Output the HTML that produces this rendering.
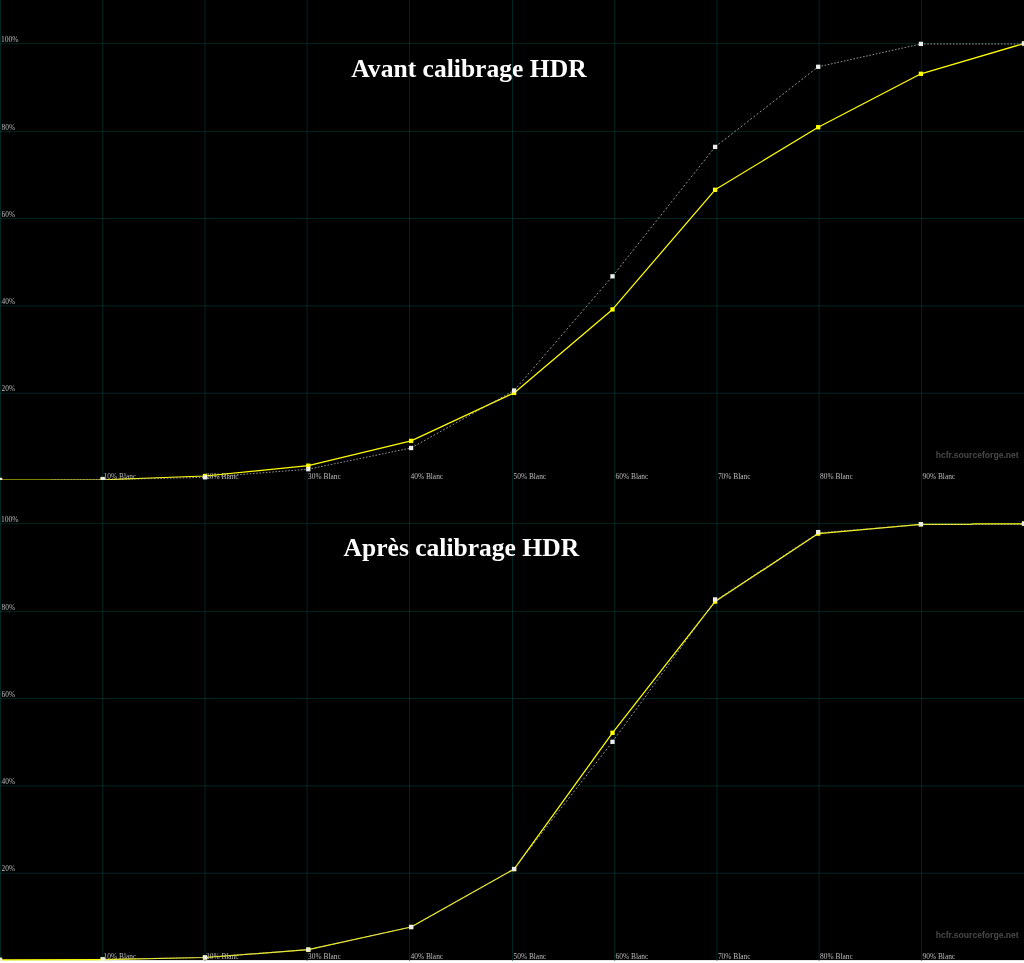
<!DOCTYPE html>
<html><head><meta charset="utf-8"><title>HCFR</title>
<style>
html,body{margin:0;padding:0;background:#fff;}
body{width:1024px;height:963px;overflow:hidden;}
svg{display:block;}
.g{stroke:#004040;stroke-width:0.55;}
.y{fill:none;stroke:#ffff00;stroke-width:1.25;stroke-linejoin:round;}
.d{fill:none;stroke:#b8b8b8;stroke-width:0.8;}
.s{font-family:"Liberation Serif",serif;font-size:8px;fill:#bcbcbc;}
.w{font-family:"Liberation Sans",sans-serif;font-size:9px;font-weight:bold;fill:#4a4a4a;}
.t{font-family:"Liberation Serif",serif;font-size:25.6px;font-weight:bold;fill:#ffffff;}
</style></head><body>
<svg width="1024" height="963" viewBox="0 0 1024 963">
<defs><clipPath id="c480"><rect x="0" y="0" width="1024" height="480"/></clipPath>
<clipPath id="c481"><rect x="0" y="0" width="1024" height="481"/></clipPath></defs>
<rect x="0" y="0" width="1024" height="960.1" fill="#000"/>
<g transform="translate(0,0)" clip-path="url(#c480)">
<line x1="0.27" y1="0" x2="0.27" y2="481" class="g"/>
<line x1="102.6" y1="0" x2="102.6" y2="481" class="g"/>
<line x1="205.0" y1="0" x2="205.0" y2="481" class="g"/>
<line x1="307.1" y1="0" x2="307.1" y2="481" class="g"/>
<line x1="409.5" y1="0" x2="409.5" y2="481" class="g"/>
<line x1="512.5" y1="0" x2="512.5" y2="481" class="g"/>
<line x1="614.6" y1="0" x2="614.6" y2="481" class="g"/>
<line x1="716.9" y1="0" x2="716.9" y2="481" class="g"/>
<line x1="819.1" y1="0" x2="819.1" y2="481" class="g"/>
<line x1="921.55" y1="0" x2="921.55" y2="481" class="g"/>
<rect x="0" y="0" width="1" height="481" fill="#002624"/>
<line x1="0" y1="43.45" x2="1024" y2="43.45" class="g"/>
<line x1="0" y1="131.45" x2="1024" y2="131.45" class="g"/>
<line x1="0" y1="218.5" x2="1024" y2="218.5" class="g"/>
<line x1="0" y1="305.9" x2="1024" y2="305.9" class="g"/>
<line x1="0" y1="393.2" x2="1024" y2="393.2" class="g"/>
<g style="filter:grayscale(1)">
<text x="1.0" y="41.55" class="s" textLength="17.6" lengthAdjust="spacingAndGlyphs">100%</text>
<text x="1.6" y="129.55" class="s" textLength="13.4" lengthAdjust="spacingAndGlyphs">80%</text>
<text x="1.6" y="216.60" class="s" textLength="13.4" lengthAdjust="spacingAndGlyphs">60%</text>
<text x="1.6" y="304.00" class="s" textLength="13.4" lengthAdjust="spacingAndGlyphs">40%</text>
<text x="1.6" y="391.30" class="s" textLength="13.4" lengthAdjust="spacingAndGlyphs">20%</text>
<text x="103.60" y="478.7" class="s" textLength="32.6" lengthAdjust="spacingAndGlyphs">10% Blanc</text>
<text x="206.00" y="478.7" class="s" textLength="32.6" lengthAdjust="spacingAndGlyphs">20% Blanc</text>
<text x="308.10" y="478.7" class="s" textLength="32.6" lengthAdjust="spacingAndGlyphs">30% Blanc</text>
<text x="410.50" y="478.7" class="s" textLength="32.6" lengthAdjust="spacingAndGlyphs">40% Blanc</text>
<text x="513.50" y="478.7" class="s" textLength="32.6" lengthAdjust="spacingAndGlyphs">50% Blanc</text>
<text x="615.60" y="478.7" class="s" textLength="32.6" lengthAdjust="spacingAndGlyphs">60% Blanc</text>
<text x="717.90" y="478.7" class="s" textLength="32.6" lengthAdjust="spacingAndGlyphs">70% Blanc</text>
<text x="820.10" y="478.7" class="s" textLength="32.6" lengthAdjust="spacingAndGlyphs">80% Blanc</text>
<text x="922.55" y="478.7" class="s" textLength="32.6" lengthAdjust="spacingAndGlyphs">90% Blanc</text>
<text x="935.7" y="458" class="w" textLength="83" lengthAdjust="spacingAndGlyphs">hcfr.sourceforge.net</text>
</g>
<polyline points="0,480.05 102.7,479.75 205.0,476.0 308.3,465.7 411.1,440.9 514.1,392.9 612.5,309.4 715.1,189.8 818.2,127.2 920.9,73.8 1024,43.5" class="y"/>
<rect x="-2.15" y="477.85" width="4.3" height="4.3" fill="#ffff00"/>
<rect x="100.55" y="477.45" width="4.3" height="4.3" fill="#ffff00"/>
<rect x="202.85" y="473.85" width="4.3" height="4.3" fill="#ffff00"/>
<rect x="306.15" y="463.55" width="4.3" height="4.3" fill="#ffff00"/>
<rect x="408.95" y="438.75" width="4.3" height="4.3" fill="#ffff00"/>
<rect x="511.95" y="390.75" width="4.3" height="4.3" fill="#ffff00"/>
<rect x="610.35" y="307.25" width="4.3" height="4.3" fill="#ffff00"/>
<rect x="712.95" y="187.65" width="4.3" height="4.3" fill="#ffff00"/>
<rect x="816.05" y="125.05" width="4.3" height="4.3" fill="#ffff00"/>
<rect x="918.75" y="71.65" width="4.3" height="4.3" fill="#ffff00"/>
<rect x="1021.85" y="41.35" width="4.3" height="4.3" fill="#ffff00"/>
<line x1="51" y1="479.95" x2="102.7" y2="479.7" class="d" stroke-dasharray="1.600 1.600"/>
<line x1="102.7" y1="479.7" x2="205.0" y2="477.3" class="d" stroke-dasharray="1.600 1.600"/>
<line x1="205.0" y1="477.3" x2="308.3" y2="469.2" class="d" stroke-dasharray="1.605 1.605"/>
<line x1="308.3" y1="469.2" x2="411.1" y2="448.0" class="d" stroke-dasharray="1.634 1.634"/>
<line x1="411.1" y1="448.0" x2="514.1" y2="390.5" class="d" stroke-dasharray="1.832 1.832"/>
<line x1="514.1" y1="390.5" x2="612.5" y2="276.3" class="d" stroke-dasharray="2.112 2.112"/>
<line x1="612.5" y1="276.3" x2="715.1" y2="146.9" class="d" stroke-dasharray="2.042 2.042"/>
<line x1="715.1" y1="146.9" x2="818.2" y2="66.8" class="d" stroke-dasharray="2.026 2.026"/>
<line x1="818.2" y1="66.8" x2="920.9" y2="44.0" class="d" stroke-dasharray="1.639 1.639"/>
<line x1="920.9" y1="44.0" x2="1024" y2="44.0" class="d" stroke-dasharray="1.600 1.600"/>
<rect x="-2.15" y="477.85" width="4.3" height="4.3" fill="#ececec"/>
<rect x="100.55" y="476.90" width="4.3" height="4.3" fill="#ececec"/>
<rect x="202.85" y="475.15" width="4.3" height="4.3" fill="#ececec"/>
<rect x="306.15" y="467.05" width="4.3" height="4.3" fill="#ececec"/>
<rect x="408.95" y="445.85" width="4.3" height="4.3" fill="#ececec"/>
<rect x="511.95" y="388.35" width="4.3" height="4.3" fill="#ececec"/>
<rect x="610.35" y="274.15" width="4.3" height="4.3" fill="#ececec"/>
<rect x="712.95" y="144.75" width="4.3" height="4.3" fill="#ececec"/>
<rect x="816.05" y="64.65" width="4.3" height="4.3" fill="#ececec"/>
<rect x="918.75" y="41.75" width="4.3" height="4.3" fill="#ececec"/>
<rect x="1021.85" y="41.35" width="4.3" height="4.3" fill="#ececec"/>
<g style="filter:grayscale(1)"><text x="351.3" y="76.5" class="t" textLength="235.3" lengthAdjust="spacingAndGlyphs">Avant calibrage HDR</text></g>
</g>
<g transform="translate(0,480)" clip-path="url(#c481)">
<line x1="0.27" y1="0" x2="0.27" y2="481" class="g"/>
<line x1="102.6" y1="0" x2="102.6" y2="481" class="g"/>
<line x1="205.0" y1="0" x2="205.0" y2="481" class="g"/>
<line x1="307.1" y1="0" x2="307.1" y2="481" class="g"/>
<line x1="409.5" y1="0" x2="409.5" y2="481" class="g"/>
<line x1="512.5" y1="0" x2="512.5" y2="481" class="g"/>
<line x1="614.6" y1="0" x2="614.6" y2="481" class="g"/>
<line x1="716.9" y1="0" x2="716.9" y2="481" class="g"/>
<line x1="819.1" y1="0" x2="819.1" y2="481" class="g"/>
<line x1="921.55" y1="0" x2="921.55" y2="481" class="g"/>
<rect x="0" y="0" width="1" height="481" fill="#002624"/>
<line x1="0" y1="43.45" x2="1024" y2="43.45" class="g"/>
<line x1="0" y1="131.45" x2="1024" y2="131.45" class="g"/>
<line x1="0" y1="218.5" x2="1024" y2="218.5" class="g"/>
<line x1="0" y1="305.9" x2="1024" y2="305.9" class="g"/>
<line x1="0" y1="393.2" x2="1024" y2="393.2" class="g"/>
<g style="filter:grayscale(1)">
<text x="1.0" y="41.55" class="s" textLength="17.6" lengthAdjust="spacingAndGlyphs">100%</text>
<text x="1.6" y="129.55" class="s" textLength="13.4" lengthAdjust="spacingAndGlyphs">80%</text>
<text x="1.6" y="216.60" class="s" textLength="13.4" lengthAdjust="spacingAndGlyphs">60%</text>
<text x="1.6" y="304.00" class="s" textLength="13.4" lengthAdjust="spacingAndGlyphs">40%</text>
<text x="1.6" y="391.30" class="s" textLength="13.4" lengthAdjust="spacingAndGlyphs">20%</text>
<text x="103.60" y="478.7" class="s" textLength="32.6" lengthAdjust="spacingAndGlyphs">10% Blanc</text>
<text x="206.00" y="478.7" class="s" textLength="32.6" lengthAdjust="spacingAndGlyphs">20% Blanc</text>
<text x="308.10" y="478.7" class="s" textLength="32.6" lengthAdjust="spacingAndGlyphs">30% Blanc</text>
<text x="410.50" y="478.7" class="s" textLength="32.6" lengthAdjust="spacingAndGlyphs">40% Blanc</text>
<text x="513.50" y="478.7" class="s" textLength="32.6" lengthAdjust="spacingAndGlyphs">50% Blanc</text>
<text x="615.60" y="478.7" class="s" textLength="32.6" lengthAdjust="spacingAndGlyphs">60% Blanc</text>
<text x="717.90" y="478.7" class="s" textLength="32.6" lengthAdjust="spacingAndGlyphs">70% Blanc</text>
<text x="820.10" y="478.7" class="s" textLength="32.6" lengthAdjust="spacingAndGlyphs">80% Blanc</text>
<text x="922.55" y="478.7" class="s" textLength="32.6" lengthAdjust="spacingAndGlyphs">90% Blanc</text>
<text x="935.7" y="458" class="w" textLength="83" lengthAdjust="spacingAndGlyphs">hcfr.sourceforge.net</text>
</g>
<polyline points="0,479.85 102.7,479.6 205.0,477.5 308.3,469.7 411.1,447.0 514.1,389.1 612.5,252.8 715.1,121.6 818.2,53.6 920.9,44.4 970.5,44.4 973.5,43.85 1024,43.85" class="y"/>
<rect x="-2.15" y="477.70" width="4.3" height="4.3" fill="#ffff00"/>
<rect x="100.55" y="477.45" width="4.3" height="4.3" fill="#ffff00"/>
<rect x="202.85" y="475.35" width="4.3" height="4.3" fill="#ffff00"/>
<rect x="306.15" y="467.55" width="4.3" height="4.3" fill="#ffff00"/>
<rect x="408.95" y="444.85" width="4.3" height="4.3" fill="#ffff00"/>
<rect x="511.95" y="386.95" width="4.3" height="4.3" fill="#ffff00"/>
<rect x="610.35" y="250.65" width="4.3" height="4.3" fill="#ffff00"/>
<rect x="712.95" y="119.45" width="4.3" height="4.3" fill="#ffff00"/>
<rect x="816.05" y="51.45" width="4.3" height="4.3" fill="#ffff00"/>
<rect x="918.75" y="42.15" width="4.3" height="4.3" fill="#ffff00"/>
<rect x="1021.85" y="41.45" width="4.3" height="4.3" fill="#ffff00"/>
<line x1="102.7" y1="479.4" x2="205.0" y2="477.4" class="d" stroke-dasharray="1.600 1.600"/>
<line x1="205.0" y1="477.4" x2="308.3" y2="469.6" class="d" stroke-dasharray="1.605 1.605"/>
<line x1="308.3" y1="469.6" x2="411.1" y2="447.0" class="d" stroke-dasharray="1.638 1.638"/>
<line x1="411.1" y1="447.0" x2="514.1" y2="389.0" class="d" stroke-dasharray="1.836 1.836"/>
<line x1="514.1" y1="389.0" x2="612.5" y2="261.8" class="d" stroke-dasharray="2.023 2.023"/>
<line x1="612.5" y1="261.8" x2="715.1" y2="120.8" class="d" stroke-dasharray="1.979 1.979"/>
<line x1="715.1" y1="120.8" x2="818.2" y2="52.9" class="d" stroke-dasharray="1.916 1.916"/>
<line x1="818.2" y1="52.9" x2="920.9" y2="44.6" class="d" stroke-dasharray="1.605 1.605"/>
<line x1="920.9" y1="44.6" x2="1024" y2="44.5" class="d" stroke-dasharray="1.600 1.600"/>
<rect x="-2.15" y="477.75" width="4.3" height="4.3" fill="#ececec"/>
<rect x="100.55" y="477.15" width="4.3" height="4.3" fill="#ececec"/>
<rect x="202.85" y="475.25" width="4.3" height="4.3" fill="#ececec"/>
<rect x="306.15" y="467.45" width="4.3" height="4.3" fill="#ececec"/>
<rect x="408.95" y="444.85" width="4.3" height="4.3" fill="#ececec"/>
<rect x="511.95" y="386.85" width="4.3" height="4.3" fill="#ececec"/>
<rect x="610.35" y="259.65" width="4.3" height="4.3" fill="#ececec"/>
<rect x="712.95" y="117.25" width="4.3" height="4.3" fill="#ececec"/>
<rect x="816.05" y="49.95" width="4.3" height="4.3" fill="#ececec"/>
<rect x="918.75" y="42.05" width="4.3" height="4.3" fill="#ececec"/>
<rect x="1021.85" y="41.45" width="4.3" height="4.3" fill="#ececec"/>
<g style="filter:grayscale(1)"><text x="343.6" y="76.3" class="t" textLength="235.5" lengthAdjust="spacingAndGlyphs">Après calibrage HDR</text></g>
</g>
</svg>
</body></html>
